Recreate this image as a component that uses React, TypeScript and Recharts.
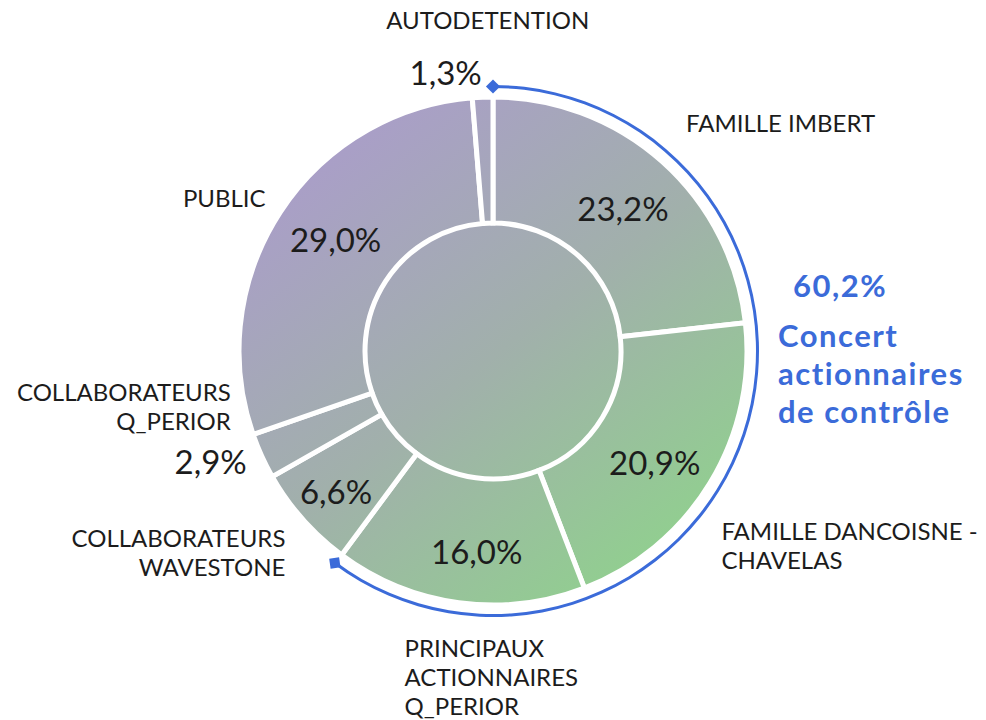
import React from 'react';
import { PieChart, Pie, Cell } from 'recharts';

// shareholders, clockwise from 12 o'clock
const holders = [
  'FAMILLE IMBERT',
  'FAMILLE DANCOISNE - CHAVELAS',
  'PRINCIPAUX ACTIONNAIRES Q_PERIOR',
  'COLLABORATEURS WAVESTONE',
  'COLLABORATEURS Q_PERIOR',
  'PUBLIC',
  'AUTODETENTION',
];
const holderLines = [
  ['FAMILLE IMBERT'],
  ['FAMILLE DANCOISNE -', 'CHAVELAS'],
  ['PRINCIPAUX', 'ACTIONNAIRES', 'Q_PERIOR'],
  ['COLLABORATEURS', 'WAVESTONE'],
  ['COLLABORATEURS', 'Q_PERIOR'],
  ['PUBLIC'],
  ['AUTODETENTION'],
];
const shares = [23.2, 20.9, 16.0, 6.6, 2.9, 29.0, 1.3];

const concertShare = 60.2;
const concertLines = ['Concert', 'actionnaires', 'de contrôle'];

const data = holders.map((name, i) => ({ name, value: shares[i] }));
const concertData = [
  { name: 'Concert', value: concertShare },
  { name: 'Autres', value: 100 - concertShare },
];

// label placement tweaks (name: relative to r=300 point, pct: inside r=195 or outside)
const LAYOUT = [
  { anchor: 'start', dx: -7, dy: 5, inside: true, pdx: 0, pdy: 2 },
  { anchor: 'start', dx: -28, dy: 33, inside: true, pdx: -5, pdy: 10 },
  { anchor: 'start', dx: -48, dy: 9, inside: true, pdx: 10, pdy: 7 },
  { anchor: 'end', dx: 17, dy: -3, inside: true, pdx: -11, pdy: 11 },
  { anchor: 'end', dx: 11, dy: -74, inside: false, pdx: 27, pdy: -1 },
  { anchor: 'end', dx: 24, dy: 20, inside: true, pdx: 6, pdy: -6 },
  { anchor: 'middle', dx: 7, dy: -22, inside: false, pdx: 1, pdy: 34 },
];

const RADIAN = Math.PI / 180;
const FONT = 'Lato, "Noto Sans", sans-serif';
const TEXT = '#1c1c1c';
const BLUE = '#3b6bd9';

const polar = (cx: number, cy: number, r: number, angle: number) => ({
  x: cx + r * Math.cos(-angle * RADIAN),
  y: cy + r * Math.sin(-angle * RADIAN),
});

const fmt = (v: number) => v.toFixed(1).replace('.', ',') + '%';

const renderShareLabel = (props: any) => {
  const { cx, cy, midAngle, index, value } = props;
  const lay = LAYOUT[index];
  const n = polar(cx, cy, 300, midAngle);
  const nx = n.x + lay.dx;
  const ny = n.y + lay.dy;
  const lines = holderLines[index];
  const p = lay.inside ? polar(cx, cy, 195, midAngle) : n;
  return (
    <g>
      <text x={nx} y={ny} textAnchor={lay.anchor} fontSize={24} fill={TEXT} fontFamily={FONT}>
        {lines.map((l, i) => (
          <tspan key={i} x={nx} dy={i === 0 ? 0 : 29}>
            {l}
          </tspan>
        ))}
      </text>
      <text
        x={p.x + lay.pdx}
        y={p.y + lay.pdy}
        textAnchor={lay.inside ? 'middle' : 'end'}
        dominantBaseline={lay.inside ? 'central' : 'auto'}
        fontSize={33}
        fill={TEXT}
        fontFamily={FONT}
      >
        {fmt(value)}
      </text>
    </g>
  );
};

const Diamond = ({ x, y, angle }: { x: number; y: number; angle: number }) => (
  <rect x={x - 5} y={y - 5} width={10} height={10} fill={BLUE} transform={`rotate(${-angle + 45} ${x} ${y})`} />
);

const renderConcertLabel = (props: any) => {
  const { cx, cy, index, startAngle, endAngle, innerRadius, outerRadius } = props;
  if (index !== 0) return null;
  const r = (innerRadius + outerRadius) / 2;
  const s = polar(cx, cy, r, startAngle);
  const e = polar(cx, cy, r, endAngle);
  const tx = cx + 285;
  return (
    <g>
      <Diamond x={s.x} y={s.y} angle={startAngle} />
      <Diamond x={e.x} y={e.y} angle={endAngle} />
      <text x={cx + 347} y={cy - 54} textAnchor="middle" fontSize={31} fontWeight={700} letterSpacing={1.5} fill={BLUE} fontFamily={FONT}>
        {fmt(concertShare)}
      </text>
      <text x={tx} y={cy - 4} fontSize={31} fontWeight={700} letterSpacing={1.5} fill={BLUE} fontFamily={FONT}>
        {concertLines.map((l, i) => (
          <tspan key={i} x={tx} dy={i === 0 ? 0 : 38}>
            {l}
          </tspan>
        ))}
      </text>
    </g>
  );
};

const CX = 485;
const CY = 343;

export default function App() {
  return (
    <div style={{ width: 970, height: 712 }}>
      <PieChart width={970} height={712} margin={{ top: 0, right: 0, bottom: 0, left: 0 }} style={{ overflow: 'visible' }}>
        <defs>
          <linearGradient id="shareFill" gradientUnits="userSpaceOnUse" x1={292} y1={102} x2={682} y2={592}>
            <stop offset="0%" stopColor="#ab9bcd" />
            <stop offset="50%" stopColor="#a1b0ab" />
            <stop offset="100%" stopColor="#8ed58a" />
          </linearGradient>
        </defs>
        <Pie
          data={[{ name: 'core', value: 1 }]}
          dataKey="value"
          cx={CX}
          cy={CY}
          innerRadius={0}
          outerRadius={128}
          startAngle={90}
          endAngle={-270}
          fill="url(#shareFill)"
          stroke="none"
          isAnimationActive={false}
        />
        <Pie
          data={data}
          dataKey="value"
          nameKey="name"
          cx={CX}
          cy={CY}
          innerRadius={128}
          outerRadius={254}
          startAngle={90}
          endAngle={-270}
          stroke="#ffffff"
          strokeWidth={5}
          label={renderShareLabel}
          labelLine={false}
          isAnimationActive={false}
        >
          {data.map((d) => (
            <Cell key={d.name} fill="url(#shareFill)" />
          ))}
        </Pie>
        <Pie
          data={concertData}
          dataKey="value"
          cx={CX}
          cy={CY}
          innerRadius={263}
          outerRadius={266}
          startAngle={90}
          endAngle={-270}
          stroke="none"
          label={renderConcertLabel}
          labelLine={false}
          isAnimationActive={false}
        >
          <Cell fill={BLUE} />
          <Cell fill="none" />
        </Pie>
      </PieChart>
    </div>
  );
}
